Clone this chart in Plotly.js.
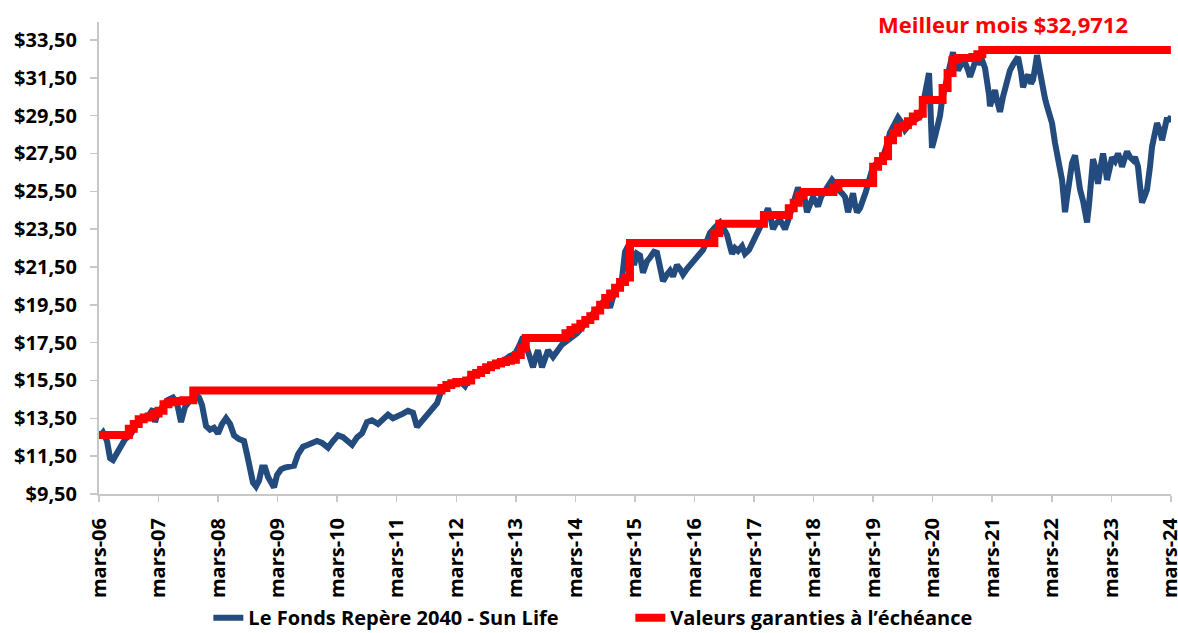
<!DOCTYPE html>
<html>
<head>
<meta charset="utf-8">
<script src="https://cdn.plot.ly/plotly-3.0.1.min.js"></script>
<style>html,body{margin:0;padding:0;background:#fff;}#chart{width:1178px;height:633px;}</style>
</head>
<body>
<div id="chart"></div>
<script>
// Time in decimal years (mars-06 = 2006.167)
const blueT = [
2006.167,2006.234,2006.301,2006.352,2006.402,2006.452,2006.520,2006.604,2006.688,2006.805,
2006.906,2006.990,2007.074,2007.107,2007.158,2007.225,2007.309,2007.410,2007.477,2007.544,
2007.611,2007.695,2007.779,2007.846,2007.897,2007.964,2008.031,2008.098,2008.165,2008.233,
2008.300,2008.367,2008.434,2008.518,2008.602,2008.652,2008.703,2008.753,2008.803,2008.854,
2008.904,2008.955,2009.005,2009.072,2009.106,2009.156,2009.223,2009.290,2009.374,2009.442,
2009.509,2009.593,2009.677,2009.744,2009.828,2009.912,2010.013,2010.097,2010.180,2010.264,
2010.348,2010.416,2010.500,2010.583,2010.667,2010.751,2010.852,2010.936,2011.020,2011.104,
2011.188,2011.272,2011.356,2011.440,2011.507,2011.574,2011.675,2011.759,2011.843,2011.910,
2011.977,2012.061,2012.145,2012.229,2012.313,2012.397,2012.481,2012.565,2012.649,2012.733,
2012.817,2012.901,2012.985,2013.069,2013.153,2013.220,2013.287,2013.354,2013.405,2013.455,
2013.505,2013.539,2013.606,2013.657,2013.707,2013.791,2013.858,2013.942,2014.026,2014.110,
2014.194,2014.278,2014.362,2014.446,2014.530,2014.614,2014.698,2014.748,2014.815,2014.882,
2014.950,2015.000,2015.050,2015.101,2015.151,2015.201,2015.252,2015.302,2015.369,2015.420,
2015.487,2015.537,2015.588,2015.638,2015.705,2015.756,2015.806,2015.873,2015.923,2015.974,
2016.041,2016.091,2016.159,2016.226,2016.310,2016.377,2016.427,2016.511,2016.595,2016.662,
2016.713,2016.763,2016.797,2016.847,2016.898,2016.965,2017.015,2017.082,2017.149,2017.217,
2017.267,2017.334,2017.401,2017.452,2017.485,2017.536,2017.603,2017.653,2017.687,2017.754,
2017.804,2017.855,2017.905,2017.956,2018.023,2018.056,2018.107,2018.157,2018.208,2018.241,
2018.292,2018.359,2018.426,2018.476,2018.527,2018.577,2018.644,2018.695,2018.745,2018.795,
2018.829,2018.862,2018.896,2018.946,2018.997,2019.047,2019.081,2019.131,2019.165,2019.232,
2019.316,2019.383,2019.450,2019.517,2019.584,2019.652,2019.702,2019.769,2019.820,2019.887,
2019.954,2020.004,2020.038,2020.072,2020.105,2020.122,2020.155,2020.206,2020.239,2020.290,
2020.323,2020.374,2020.407,2020.458,2020.508,2020.542,2020.592,2020.642,2020.710,2020.760,
2020.794,2020.844,2020.878,2020.945,2020.995,2021.046,2021.079,2021.113,2021.129,2021.180,
2021.213,2021.247,2021.297,2021.348,2021.415,2021.465,2021.516,2021.566,2021.600,2021.650,
2021.684,2021.734,2021.768,2021.818,2021.852,2021.885,2021.919,2021.969,2022.003,2022.053,
2022.087,2022.137,2022.171,2022.221,2022.272,2022.305,2022.339,2022.372,2022.389,2022.423,
2022.473,2022.507,2022.557,2022.591,2022.641,2022.691,2022.725,2022.759,2022.792,2022.842,
2022.859,2022.893,2022.943,2022.977,2023.027,2023.061,2023.094,2023.145,2023.178,2023.229,
2023.279,2023.313,2023.346,2023.397,2023.430,2023.481,2023.531,2023.565,2023.615,2023.648,
2023.682,2023.732,2023.766,2023.816,2023.850,2023.900,2023.934,2023.984,2024.018,2024.068,
2024.102,2024.152,2024.167
];
const blueV = [
12.5,12.75,12.3,11.4,11.3,11.6,11.9,12.4,12.6,13.2,
13.5,13.6,14.0,13.3,13.8,14.1,14.45,14.6,14.3,13.3,
14.1,14.45,14.75,14.6,14.2,13.1,12.9,13.0,12.7,13.2,
13.5,13.2,12.6,12.4,12.3,11.6,10.9,10.1,9.9,10.2,
10.9,10.9,10.4,9.9,9.85,10.5,10.8,10.9,10.95,11.0,
11.6,12.0,12.1,12.2,12.3,12.2,11.95,12.3,12.6,12.5,
12.3,12.1,12.5,12.7,13.3,13.4,13.2,13.5,13.7,13.5,
13.6,13.75,13.9,13.8,13.05,13.3,13.75,14.0,14.3,14.9,
15.1,15.3,15.35,15.45,15.2,15.7,15.9,16.0,16.1,16.25,
16.4,16.5,16.6,16.8,16.9,17.3,17.8,17.2,16.6,16.2,
16.8,17.1,16.2,16.7,17.1,16.75,17.1,17.4,17.6,17.8,
18.0,18.3,18.7,19.0,19.25,19.6,19.8,19.35,20.1,20.5,
20.9,22.3,22.6,22.4,21.6,22.2,22.1,21.2,21.8,22.0,
22.3,22.25,21.5,20.75,21.1,21.3,21.0,21.6,21.4,21.1,
21.4,21.6,21.8,22.05,22.4,22.9,23.3,23.6,23.85,23.5,
23.2,22.6,22.2,22.5,22.35,22.6,22.2,22.4,22.8,23.2,
23.6,24.1,24.6,24.0,23.5,23.8,24.0,23.7,23.5,24.1,
24.65,25.2,25.7,25.3,25.0,24.4,24.9,25.2,24.9,24.7,
25.2,25.5,25.8,26.1,25.9,25.6,25.4,25.2,24.4,25.1,
25.4,24.8,24.4,24.6,25.0,25.5,25.9,26.4,26.8,27.0,
27.2,27.8,28.6,29.0,29.4,29.1,28.75,29.0,29.2,29.3,
29.45,30.1,30.8,31.3,31.75,30.5,27.8,28.4,28.75,29.5,
30.3,31.0,31.4,32.1,32.85,32.3,31.9,32.2,32.3,31.9,
31.55,32.0,32.35,32.3,32.45,32.0,31.4,30.6,30.0,30.4,
30.85,30.3,29.7,30.5,31.5,31.9,32.2,32.4,32.6,31.8,
31.0,31.5,31.65,31.2,31.4,32.0,32.7,31.8,31.0,30.4,
30.0,29.5,29.1,28.05,27.2,26.8,26.1,25.0,24.4,25.2,
26.5,27.0,27.4,26.6,25.6,25.0,24.2,23.85,24.8,26.1,
27.2,26.8,25.9,26.6,27.5,26.9,26.1,26.8,27.3,27.1,
27.5,27.2,26.8,27.3,27.6,27.3,27.15,27.3,26.8,25.8,
24.9,25.3,25.6,26.8,27.85,28.6,29.1,28.7,28.2,28.9,
29.4,29.2,29.5
];
// Guaranteed maturity value (step changes)
const bestMonth = 32.9712;
const redT = [
2006.167,2006.667,2006.750,2006.833,2006.917,2007.000,2007.083,2007.167,2007.250,2007.333,
2007.417,2007.500,2007.583,2007.750,2011.917,2012.000,2012.083,2012.167,2012.333,2012.417,
2012.500,2012.583,2012.667,2012.750,2012.833,2012.917,2013.000,2013.083,2013.167,2013.250,
2013.333,2014.000,2014.083,2014.167,2014.250,2014.333,2014.417,2014.500,2014.583,2014.667,
2014.750,2014.833,2014.917,2015.000,2015.083,2016.500,2016.583,2017.333,2017.750,2017.833,
2017.917,2018.000,2018.500,2018.583,2019.167,2019.250,2019.333,2019.417,2019.500,2019.583,
2019.667,2019.750,2019.833,2019.917,2020.000,2020.333,2020.417,2020.500,2020.583,2020.833,
2020.917,2021.000,2024.167
];
const redV = [
12.62,12.95,13.2,13.45,13.55,13.6,13.75,13.9,14.25,14.35,
14.4,14.42,14.45,14.97,15.1,15.26,15.35,15.42,15.5,15.8,
15.9,16.05,16.2,16.3,16.4,16.48,16.55,16.6,16.85,17.2,
17.75,18.0,18.17,18.3,18.5,18.7,18.9,19.2,19.5,19.86,
20.1,20.4,20.7,20.95,22.77,23.3,23.78,24.25,24.6,24.9,
25.3,25.47,25.7,25.94,26.8,27.1,27.35,28.2,28.6,28.9,
29.0,29.2,29.45,29.6,30.33,30.96,31.75,32.44,32.55,32.6,
32.75,bestMonth,bestMonth
];
const tickYears = [2006,2007,2008,2009,2010,2011,2012,2013,2014,2015,2016,2017,2018,2019,2020,2021,2022,2023,2024];
const tickLabels = ['mars-06','mars-07','mars-08','mars-09','mars-10','mars-11','mars-12','mars-13','mars-14','mars-15','mars-16','mars-17','mars-18','mars-19','mars-20','mars-21','mars-22','mars-23','mars-24'];
const seriesNames = ['Le Fonds Repère 2040 - Sun Life', 'Valeurs garanties à l\u2019échéance'];
const annotationText = 'Meilleur mois $32,9712';

const FONT = 'Open Sans, Noto Sans, sans-serif';
const axisGray = '#c8c8c8';

const traces = [
  {x: blueT, y: blueV, type: 'scatter', mode: 'lines', name: seriesNames[0],
   line: {color: '#234b7e', width: 6}},
  {x: redT, y: redV, type: 'scatter', mode: 'lines', name: seriesNames[1],
   line: {color: '#ff0000', width: 8, shape: 'hv'}}
];

const layout = {
  width: 1178, height: 633,
  margin: {l: 99, r: 7, t: 22, b: 139, autoexpand: false},
  paper_bgcolor: '#ffffff', plot_bgcolor: '#ffffff',
  separators: ', ',
  showlegend: true,
  font: {family: FONT, color: '#000', size: 19},
  xaxis: {
    range: [tickYears[0] + 2/12, tickYears[tickYears.length-1] + 2/12 + 0.002],
    tickvals: tickYears.map(y => y + 2/12),
    ticktext: tickLabels,
    tickangle: -90,
    automargin: false,
    ticklabeloverflow: 'allow',
    ticks: 'outside', ticklen: 6, tickwidth: 1.5, tickcolor: axisGray,
    ticklabelstandoff: 8,
    showline: true, linecolor: axisGray, linewidth: 2,
    showgrid: false, zeroline: false,
    tickfont: {family: FONT, size: 20, color: '#000', weight: 'bold'}
  },
  yaxis: {
    range: [9.5, 34.45],
    tick0: 9.5, dtick: 2,
    tickprefix: '$', tickformat: '.2f',
    automargin: false,
    ticks: 'outside', ticklen: 7, tickwidth: 1.5, tickcolor: axisGray,
    ticklabelstandoff: 9,
    showline: true, linecolor: axisGray, linewidth: 2,
    showgrid: false, zeroline: false,
    tickfont: {family: FONT, size: 20, color: '#000', weight: 'bold'}
  },
  legend: {
    orientation: 'h', x: 0.102, xanchor: 'left', y: -0.262, yanchor: 'middle',
    font: {family: FONT, size: 20, color: '#000', weight: 'bold'},
    entrywidth: 377, entrywidthmode: 'pixels',
    bgcolor: 'rgba(0,0,0,0)'
  },
  annotations: [{
    text: annotationText, xref: 'x', yref: 'paper',
    x: 2021.35, y: 0.996, xanchor: 'center', yanchor: 'middle',
    showarrow: false,
    font: {family: FONT, size: 22, color: '#ff0000', weight: 'bold'}
  }]
};

Plotly.newPlot('chart', traces, layout, {displayModeBar: false, staticPlot: true});
</script>
</body>
</html>
